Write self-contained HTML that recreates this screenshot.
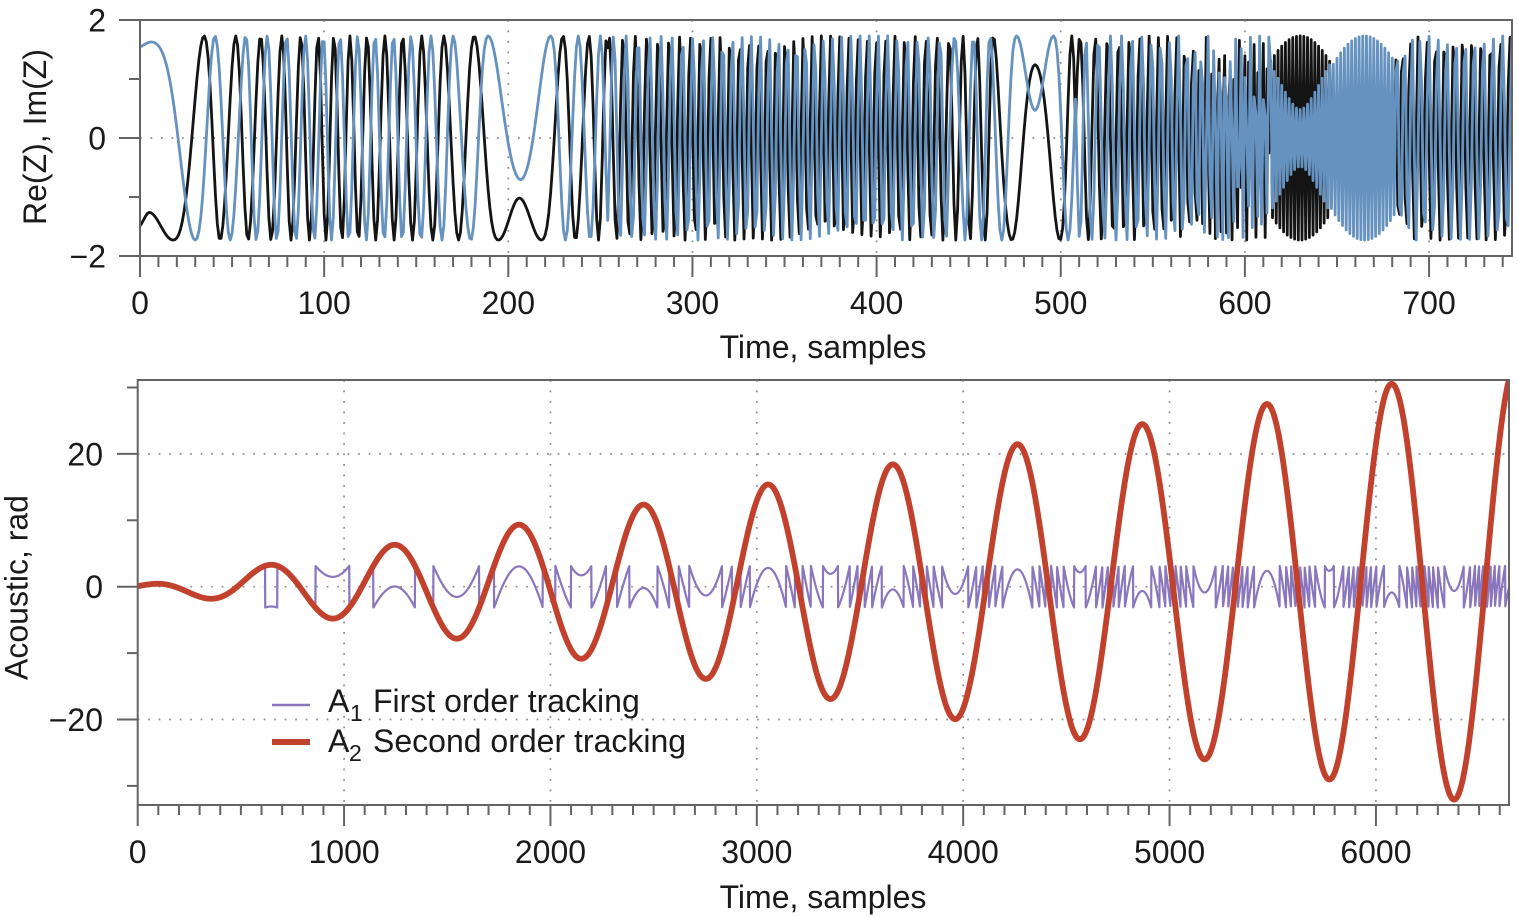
<!DOCTYPE html>
<html><head><meta charset="utf-8">
<style>
html,body{margin:0;padding:0;background:#fff;}
svg{display:block;}
text{font-family:"Liberation Sans",Arial,sans-serif;fill:#1a1a1a;font-size:32px;}
</style></head>
<body>
<svg id="s" width="1517" height="917" viewBox="0 0 1517 917" xmlns="http://www.w3.org/2000/svg">
<defs>
<clipPath id="c1"><rect x="140" y="20" width="1372" height="236"/></clipPath>
<clipPath id="c2"><rect x="137.7" y="380" width="1371.3" height="425"/></clipPath>
</defs>
<rect width="1517" height="917" fill="#fff"/>
<g id="grid" stroke="#8a8a8a" stroke-width="1.7" stroke-dasharray="1.7 8.8" fill="none"></g>
<g clip-path="url(#c1)" fill="none" stroke-linejoin="round" stroke-linecap="round">
<path id="pb" stroke="#141414" stroke-width="2.8"/>
<path id="pu" stroke="#6692c0" stroke-width="2.8"/>
</g>
<g clip-path="url(#c2)" fill="none" stroke-linejoin="round">
<path id="pp" stroke="#8a76bd" stroke-width="2.2"/>
<path id="pr" stroke="#c2412c" stroke-width="5.8"/>
</g>
<g id="axes" stroke="#646464" stroke-width="2" fill="none"></g>

<!-- top panel text -->
<text x="106" y="31.5" text-anchor="end">2</text>
<text x="106" y="149.5" text-anchor="end">0</text>
<text x="106" y="267.5" text-anchor="end">−2</text>
<text x="140" y="314" text-anchor="middle">0</text>
<text x="324.15" y="314" text-anchor="middle">100</text>
<text x="508.3" y="314" text-anchor="middle">200</text>
<text x="692.45" y="314" text-anchor="middle">300</text>
<text x="876.6" y="314" text-anchor="middle">400</text>
<text x="1060.75" y="314" text-anchor="middle">500</text>
<text x="1244.9" y="314" text-anchor="middle">600</text>
<text x="1429.05" y="314" text-anchor="middle">700</text>
<text x="823" y="358" text-anchor="middle">Time, samples</text>
<text transform="translate(46,137) rotate(-90)" text-anchor="middle">Re(Z), Im(Z)</text>

<!-- bottom panel text -->
<text x="103" y="465.4" text-anchor="end">20</text>
<text x="103" y="598.2" text-anchor="end">0</text>
<text x="103" y="731" text-anchor="end">−20</text>
<text x="137.7" y="863" text-anchor="middle">0</text>
<text x="344.07" y="863" text-anchor="middle">1000</text>
<text x="550.44" y="863" text-anchor="middle">2000</text>
<text x="756.81" y="863" text-anchor="middle">3000</text>
<text x="963.18" y="863" text-anchor="middle">4000</text>
<text x="1169.55" y="863" text-anchor="middle">5000</text>
<text x="1375.92" y="863" text-anchor="middle">6000</text>
<text x="823" y="908" text-anchor="middle">Time, samples</text>
<text transform="translate(27.5,587.5) rotate(-90)" text-anchor="middle">Acoustic, rad</text>

<!-- legend -->
<line x1="272" y1="705" x2="310" y2="705" stroke="#8a76bd" stroke-width="2.5"/>
<line x1="272" y1="742" x2="310" y2="742" stroke="#c2412c" stroke-width="6"/>
<text x="328" y="712">A</text>
<text x="350" y="721" style="font-size:23px">1</text>
<text x="373" y="712">First order tracking</text>
<text x="328" y="752">A</text>
<text x="349" y="761" style="font-size:23px">2</text>
<text x="373" y="752">Second order tracking</text>
</svg>
<script>
(function(){
const NS='http://www.w3.org/2000/svg';
const PI=Math.PI;
function el(p,tag,a){const e=document.createElementNS(NS,tag);for(const k in a)e.setAttribute(k,a[k]);p.appendChild(e);return e;}
function ln(g,x1,y1,x2,y2){el(g,'line',{x1:x1,y1:y1,x2:x2,y2:y2});}
function pchip(xs,ys){
  const n=xs.length,h=[],d=[],m=new Array(n);
  for(let i=0;i<n-1;i++){h[i]=xs[i+1]-xs[i];d[i]=(ys[i+1]-ys[i])/h[i];}
  m[0]=d[0];m[n-1]=d[n-2];
  for(let i=1;i<n-1;i++){
    if(d[i-1]*d[i]<=0)m[i]=0;
    else{const w1=2*h[i]+h[i-1],w2=h[i]+2*h[i-1];m[i]=(w1+w2)/(w1/d[i-1]+w2/d[i]);}
  }
  return function(x){
    let i=0;
    if(x<=xs[0])i=0;else if(x>=xs[n-1])i=n-2;else{while(i<n-2&&x>xs[i+1])i++;}
    const t=(x-xs[i])/h[i],t2=t*t,t3=t2*t;
    return (2*t3-3*t2+1)*ys[i]+(t3-2*t2+t)*h[i]*m[i]+(-2*t3+3*t2)*ys[i+1]+(t3-t2)*h[i]*m[i+1];
  };
}
function mk(k){return pchip(k.map(a=>a[0]),k.map(a=>a[1]));}
function lin(k){
  return function(x){
    if(x<=k[0][0])return k[0][1];
    for(let i=0;i<k.length-1;i++){if(x<=k[i+1][0]){const a=k[i],b=k[i+1];return a[1]+(b[1]-a[1])*(x-a[0])/(b[0]-a[0]);}}
    return k[k.length-1][1];
  };
}
function wrapPi(a){a=(a+PI)%(2*PI);if(a<0)a+=2*PI;return a-PI;}

/* ---------- top panel ---------- */
const kb1=[[0,0.83],[5,0.76],[18,1],[34.8,2],[43.5,3],[52,4],[58.7,5],[65.5,6],[71.2,7],[77,8],[82,9],[87.3,10],[92,11],[96.7,12],[101,13],[105.3,14],[109.7,15],[114,16],[118.6,17],[123.3,18],[128,19],[133,20],[138,21],[142.6,22],[148,23],[153,24],[159,25],[165,26],[173,27],[181.5,28],[194.6,29],[206,29.3],[218,29],[229.7,28],[236.5,27],[243.8,26],[249,25],[253.4,24],[257,23]];
const ku1=[[0,0.15],[6.3,0.11],[30,1],[40.7,2],[49,3],[57.4,4],[63.2,5],[69.1,6],[74.3,7],[79.6,8],[84.7,9],[89.9,10],[94.7,11],[99.5,12],[104,13],[108.6,14],[113.4,15],[118.2,16],[122.9,17],[127.6,18],[132.6,19],[137.6,20],[142.4,21],[147.2,22],[152.6,23],[158,24],[164,25],[170.1,26],[179.6,27],[189.1,28],[206.7,28.634],[223,28],[231,27],[238,26],[244.5,25],[250,24],[255,23]];
const kb2=[[440,-2],[443,-1],[446.9,0],[450.8,1],[454.7,2],[459,3],[463.4,4],[473.4,5],[486,5.755],[499.6,5],[506,4],[510,3],[513,2]];
const ku2=[[440,-1],[444,0],[448,1],[452.5,2],[457,3],[461.6,4],[468,5],[476,6],[486,6.413],[496,6],[504,5],[510,4],[514,3]];
const fb1=mk(kb1),fu1=mk(ku1),fb2=mk(kb2),fu2=mk(ku2);
const NT=745;
const PB=new Array(NT+1),PU=new Array(NT+1);
const VB=new Array(NT+1),VU=new Array(NT+1);
function dense(n0,n1,om,pB0,pU0,pB1,pU1){
  const Psi=[0];
  for(let n=n0+1;n<=n1;n++)Psi.push(Psi[Psi.length-1]+om(n-0.5));
  const N=n1-n0;
  const rB=(pB1==null)?0:wrapPi(pB1-(pB0+Psi[N]));
  const b0=wrapPi(pU0-pB0);
  const bq=b0+wrapPi(-PI/2-b0);
  const b1=(pU1==null)?bq:bq+wrapPi((pU1-pB1)-bq);
  const L=Math.min(8,N/3);
  for(let k=0;k<=N;k++){
    const n=n0+k;
    const pb=pB0+Psi[k]+rB*k/N;
    let b;
    if(k<L)b=b0+(bq-b0)*k/L;
    else if(pU1!=null&&k>N-L)b=bq+(b1-bq)*(k-(N-L))/L;
    else b=bq;
    PB[n]=pb;PU[n]=pb+b;
  }
}
const dl=0.045;
for(let n=0;n<=254;n++){PB[n]=PI*fb1(n);PU[n]=PI*fu1(n);}
const om1=lin([[254,0.7],[262,0.95],[290,1.1],[340,1.3],[400,1.28],[430,1.05],[447,0.8]]);
dense(254,447,om1,PB[254],PU[254],PI*fb2(447),PI*fu2(447));
for(let n=447;n<=508;n++){PB[n]=PI*fb2(n);PU[n]=PI*fu2(n);}
const om2=lin([[508,0.55],[514,0.75],[522,0.95],[540,1.15],[565,1.35],[585,2.0],[600,2.45],[613,2.55]]);
dense(508,613,om2,PB[508],PU[508],null,null);
const om3=lin([[682,1.6],[700,1.3],[745,1.2]]);
dense(682,745,om3,0.7,0.7-PI/2,null,null);

const A=1.73;
for(let n=0;n<=NT;n++){VB[n]=A*Math.cos(PB[n]);VU[n]=A*Math.cos(PU[n]);}
/* near-Nyquist section with sharp-edged envelopes */
for(let n=614;n<=681;n++){
  const s=(n%2===0)?1:-1;
  const ph=dl*(n-630);
  let eb=Math.cos(ph), eu;
  if(n<=646){ eu=Math.sqrt(0.078+Math.sin(ph)*Math.sin(ph)); }
  else { eb=Math.min(Math.abs(Math.cos(ph)),0.3); eu=Math.sin(PI*(n-630)/70); }
  VB[n]=A*s*eb; VU[n]=A*s*eu;
}

function X1(t){return 140+1.8415*t;}
function Y1(v){return 138-59*v;}
let db='',du='';
for(let n=0;n<=NT;n++){
  const x=X1(n).toFixed(2);
  db+=(n?'L':'M')+x+' '+Y1(VB[n]).toFixed(2);
  du+=(n?'L':'M')+x+' '+Y1(VU[n]).toFixed(2);
}
document.getElementById('pb').setAttribute('d',db);
document.getElementById('pu').setAttribute('d',du);

/* ---------- bottom panel ---------- */
function X2(t){return 137.7+0.20637*t;}
function Y2(v){return 586.7-6.64*v;}
function red(t){return (0.09+0.005013*t)*Math.cos(2*PI*(t-6075)/604.6);}
let dr='',dp='';
for(let t=0;t<=6650;t++){
  const v=red(t);
  let w=(v+PI)%(2*PI);if(w<0)w+=2*PI;w-=PI;
  const x=X2(t).toFixed(2);
  dp+=(t?'L':'M')+x+' '+Y2(w).toFixed(2);
  if(t%2===0||t===6650)dr+=(t?'L':'M')+x+' '+Y2(v).toFixed(2);
}
document.getElementById('pr').setAttribute('d',dr);
document.getElementById('pp').setAttribute('d',dp);

/* ---------- grid ---------- */
const g=document.getElementById('grid');
for(let k=1;k<=7;k++){const x=X1(100*k);ln(g,x,20,x,256);}
ln(g,140,138,1512,138);
for(let k=1;k<=6;k++){const x=X2(1000*k);ln(g,x,380,x,805);}
[20,0,-20].forEach(v=>ln(g,137.7,Y2(v),1509,Y2(v)));

/* ---------- axes ---------- */
const ax=document.getElementById('axes');
el(ax,'rect',{x:140,y:20,width:1372,height:236});
[2,0,-2].forEach(v=>ln(ax,119,Y1(v),140,Y1(v)));
[1,-1].forEach(v=>ln(ax,129,Y1(v),140,Y1(v)));
for(let t=0;t<=740;t+=10){const x=X1(t);ln(ax,x,256,x,(t%100===0)?277:267);}
el(ax,'rect',{x:137.7,y:380,width:1371.3,height:425});
[20,0,-20].forEach(v=>ln(ax,117,Y2(v),137.7,Y2(v)));
[30,10,-10,-30].forEach(v=>ln(ax,127,Y2(v),137.7,Y2(v)));
for(let t=0;t<=6600;t+=100){const x=X2(t);ln(ax,x,805,x,(t%1000===0)?826:815);}
})();
</script>
</body></html>
